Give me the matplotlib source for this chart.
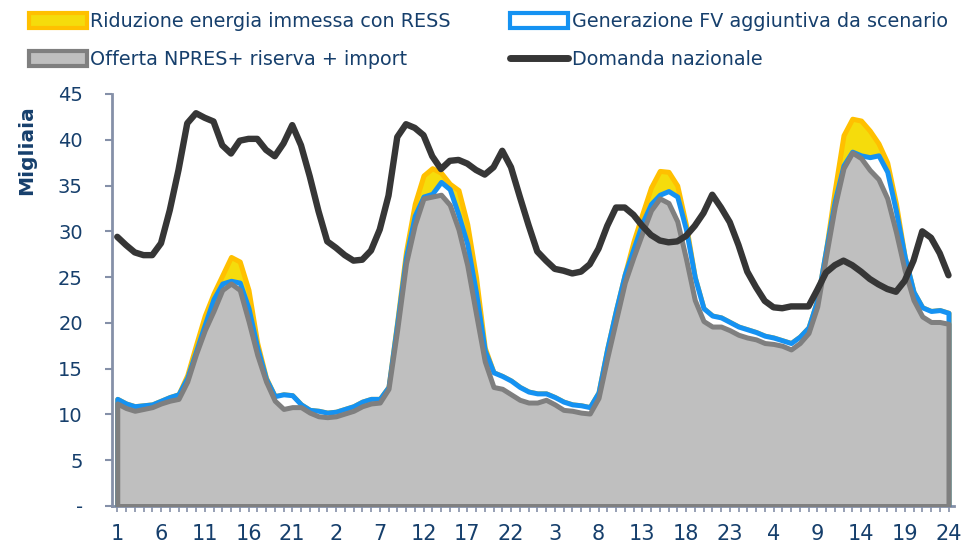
import numpy as np
import matplotlib
matplotlib.use("Agg")
import matplotlib.pyplot as plt
from matplotlib.patches import Patch
from matplotlib.lines import Line2D

# ---- data (thousands MW), 4 days x 24 hours ----
hours = list(range(1, 25)) * 4

offerta = [11.2, 10.7, 10.4, 10.6, 10.8, 11.2, 11.5, 11.7, 13.6, 16.6, 19.2, 21.3, 23.6, 24.3, 23.6, 20.2, 16.5, 13.6, 11.5, 10.6, 10.8, 10.8, 10.2, 9.8,
           9.7, 9.8, 10.1, 10.4, 10.9, 11.2, 11.3, 12.8, 19.3, 26.5, 30.7, 33.6, 33.8, 34.0, 32.9, 30.2, 26.3, 21.0, 15.8, 13.0, 12.8, 12.2, 11.6, 11.3,
           11.3, 11.6, 11.1, 10.5, 10.4, 10.2, 10.1, 11.8, 16.2, 20.3, 24.4, 27.2, 29.8, 32.3, 33.6, 33.1, 31.1, 27.0, 22.5, 20.2, 19.6, 19.6, 19.2, 18.7,
           18.4, 18.2, 17.8, 17.7, 17.5, 17.1, 17.8, 18.9, 21.8, 27.3, 32.7, 36.9, 38.6, 38.0, 36.7, 35.7, 33.6, 29.9, 25.7, 22.5, 20.7, 20.1, 20.1, 19.9]

top_fv = [11.7, 11.2, 10.9, 11.0, 11.1, 11.5, 11.9, 12.2, 14.0, 16.9, 19.8, 22.6, 24.3, 24.6, 24.4, 21.6, 17.3, 13.9, 12.0, 12.2, 12.1, 11.1, 10.5, 10.4,
          10.2, 10.3, 10.6, 10.9, 11.4, 11.7, 11.7, 13.0, 20.0, 27.2, 31.7, 33.8, 34.1, 35.4, 34.6, 31.8, 28.6, 23.3, 17.0, 14.6, 14.2, 13.7, 13.0, 12.5,
          12.3, 12.3, 11.9, 11.4, 11.1, 11.0, 10.8, 12.4, 17.2, 21.4, 25.3, 28.1, 30.9, 33.0, 34.0, 34.4, 33.8, 30.2, 25.0, 21.6, 20.8, 20.6, 20.1, 19.6,
          19.3, 19.0, 18.6, 18.4, 18.1, 17.8, 18.5, 19.5, 22.5, 28.0, 33.3, 37.2, 38.7, 38.3, 38.1, 38.3, 36.5, 32.2, 27.2, 23.4, 21.7, 21.3, 21.4, 21.1]

top_ress = [11.7, 11.2, 10.9, 11.0, 11.1, 11.5, 11.9, 12.2, 14.3, 17.6, 20.8, 23.2, 25.2, 27.2, 26.7, 23.6, 17.8, 14.0, 12.0, 12.2, 12.1, 11.1, 10.5, 10.4,
            10.2, 10.3, 10.6, 10.9, 11.4, 11.7, 11.7, 13.0, 20.2, 27.8, 33.0, 36.1, 36.9, 36.4, 35.2, 34.5, 30.8, 25.0, 17.3, 14.6, 14.2, 13.7, 13.0, 12.5,
            12.3, 12.3, 11.9, 11.4, 11.1, 11.0, 10.8, 12.4, 17.2, 21.4, 25.3, 28.9, 31.9, 34.8, 36.6, 36.5, 35.0, 30.7, 25.0, 21.6, 20.8, 20.6, 20.1, 19.6,
            19.3, 19.0, 18.6, 18.4, 18.1, 17.8, 18.5, 19.5, 22.5, 28.0, 34.5, 40.5, 42.3, 42.1, 41.0, 39.6, 37.5, 33.0, 27.2, 23.4, 21.7, 21.3, 21.4, 21.1]

domanda = [29.4, 28.5, 27.7, 27.4, 27.4, 28.7, 32.3, 36.7, 41.8, 42.9, 42.4, 42.0, 39.4, 38.5, 39.9, 40.1, 40.1, 38.9, 38.2, 39.6, 41.6, 39.4, 36.0, 32.2,
           28.9, 28.2, 27.4, 26.8, 26.9, 27.9, 30.2, 33.9, 40.3, 41.7, 41.3, 40.5, 38.2, 36.8, 37.7, 37.8, 37.4, 36.7, 36.2, 37.0, 38.8, 37.0, 33.8, 30.7,
           27.8, 26.8, 25.9, 25.7, 25.4, 25.6, 26.4, 28.1, 30.6, 32.6, 32.6, 31.8, 30.6, 29.6, 29.0, 28.8, 28.9, 29.5, 30.6, 32.0, 34.0, 32.6, 31.0, 28.5,
           25.6, 23.9, 22.4, 21.7, 21.6, 21.8, 21.8, 21.8, 23.6, 25.5, 26.3, 26.8, 26.3, 25.6, 24.8, 24.2, 23.7, 23.4, 24.6, 26.8, 30.0, 29.3, 27.6, 25.2]

labels = ["Riduzione energia immessa con RESS",
          "Generazione FV aggiuntiva da scenario",
          "Offerta NPRES+ riserva + import",
          "Domanda nazionale"]

# ---- styling ----
TXT = "#163F6C"
AX = "#8590A8"
ORANGE, YELLOW = "#FFC000", "#F5DC0C"
BLUE = "#1592F2"
GRAY_E, GRAY_F = "#7F7F7F", "#BFBFBF"
BLACK = "#363636"

plt.rcParams["font.family"] = ["DejaVu Sans"]

fig = plt.figure(figsize=(9.67, 5.44), dpi=100)
ax = fig.add_axes([112 / 967, 1 - 506 / 544, (953.75 - 112) / 967, (506 - 94) / 544])

x = np.arange(len(hours))

ax.fill_between(x, 0, top_ress, facecolor=YELLOW, edgecolor=ORANGE, linewidth=3.6, joinstyle="round", zorder=2)
ax.fill_between(x, 0, top_fv, facecolor="white", edgecolor=BLUE, linewidth=3.6, joinstyle="round", zorder=3)
ax.fill_between(x, 0, offerta, facecolor=GRAY_F, edgecolor=GRAY_E, linewidth=3.6, joinstyle="round", zorder=4)
ax.plot(x, domanda, color=BLACK, linewidth=4.6, solid_capstyle="round", solid_joinstyle="round", zorder=5)

ax.set_xlim(-0.6, 95.6)
ax.set_ylim(0, 45)

ax.set_yticks(range(0, 46, 5))
ax.set_yticklabels(["-"] + [str(v) for v in range(5, 46, 5)])
ax.set_xticks(x)
ax.set_xticklabels([str(h) if i % 5 == 0 else "" for i, h in enumerate(hours)])

for s in ["top", "right"]:
    ax.spines[s].set_visible(False)
for s in ["left", "bottom"]:
    ax.spines[s].set_color(AX)
    ax.spines[s].set_linewidth(2)
ax.spines["left"].set_zorder(6)

ax.tick_params(axis="y", colors=AX, labelcolor=TXT, labelsize=14, length=5, width=1.5, pad=16)
ax.tick_params(axis="x", colors=AX, labelcolor=TXT, labelsize=15, length=4, width=1.2, pad=9)

fig.text(27 / 967, 1 - 150 / 544, "Migliaia", rotation=90, ha="center", va="center",
         fontsize=14.5, fontweight="bold", color=TXT)

handles = [
    Patch(facecolor=YELLOW, edgecolor=ORANGE, linewidth=3),
    Patch(facecolor=GRAY_F, edgecolor=GRAY_E, linewidth=3),
    Patch(facecolor="white", edgecolor=BLUE, linewidth=3),
    Line2D([], [], color=BLACK, linewidth=5, solid_capstyle="round"),
]
leg = fig.legend(handles, [labels[0], labels[2], labels[1], labels[3]], ncol=2,
                 loc="upper left", bbox_to_anchor=(29 / 967, 1 - 12 / 544),
                 frameon=False, fontsize=13.8, handlelength=3.0, handleheight=0.8,
                 handletextpad=0.2, columnspacing=3.1, labelspacing=1.0, borderpad=0,
                 borderaxespad=0)
for t in leg.get_texts():
    t.set_color(TXT)

fig.savefig("out.png", dpi=100)
